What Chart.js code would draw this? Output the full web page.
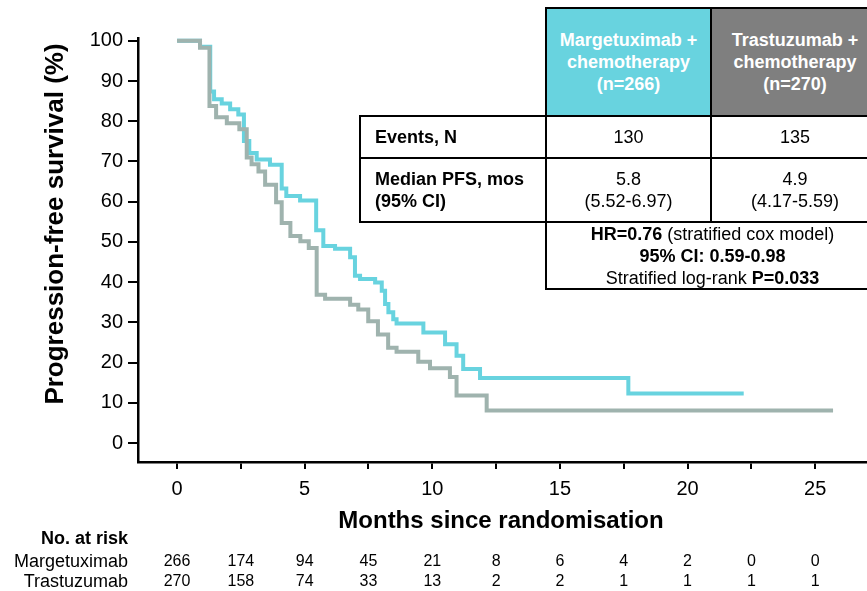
<!DOCTYPE html>
<html>
<head>
<meta charset="utf-8">
<script src="https://cdn.jsdelivr.net/npm/chart.js@4.4.1/dist/chart.umd.min.js"></script>
<style>
  html, body { margin: 0; padding: 0; background: #fff; }
  #wrap { position: relative; width: 867px; height: 591px; overflow: hidden; font-family: 'Liberation Sans', Arial, sans-serif; }
  #km { position: absolute; left: 0; top: 0; }
  .cell { position: absolute; box-sizing: border-box; border: 2px solid #000; display: flex; flex-direction: column; justify-content: center; align-items: center; text-align: center; font-size: 18px; line-height: 22px; color: #000; }
  .cell.lbl { align-items: flex-start; text-align: left; padding-left: 14px; font-weight: bold; }
  .cell.hdr { color: #fff; font-weight: bold; }
  b { font-weight: bold; }
</style>
</head>
<body>
<div id="wrap">
  <canvas id="km" width="867" height="591"></canvas>
  <div id="tbl"></div>
</div>
<script>
// Kaplan-Meier steps: time (months) -> survival (%)
const marTimes = [0, 0.9, 1.3, 1.45, 1.75, 2.08, 2.4, 2.62, 2.83, 3.12, 3.64, 4.1, 4.28, 4.82, 5.45, 5.73, 6.19, 6.78, 6.97, 7.17, 7.76, 8.02, 8.15, 8.28, 8.47, 8.6, 9.65, 10.5, 10.95, 11.21, 11.87, 17.68, 22.2];
const marSurv  = [100, 98.5, 87.4, 85.5, 84.4, 83, 81.7, 75.1, 72.1, 70.5, 69.2, 63.3, 61.4, 60.3, 52.9, 49, 48.3, 46.2, 41.6, 40.8, 39.9, 37.9, 34.6, 32.5, 30.8, 29.7, 27.5, 24.6, 21.7, 18.4, 16.2, 12.3, 12.3];
const traTimes = [0, 0.9, 1.27, 1.53, 1.95, 2.44, 2.73, 2.92, 3.19, 3.45, 3.88, 4.1, 4.44, 4.83, 5.16, 5.47, 5.8, 6.78, 7.1, 7.49, 7.87, 8.27, 8.6, 9.45, 9.91, 10.69, 10.95, 12.13, 25.7];
const traSurv  = [100, 98.3, 83.8, 81, 79.5, 78, 71, 69.3, 67.5, 64.2, 59.9, 54.7, 51.5, 50.2, 48.5, 36.9, 35.9, 34.4, 33.2, 30.3, 27, 23.7, 22.7, 20.2, 18.6, 16.4, 11.8, 8.1, 8.1];

const xTicks = [0, 2.5, 5, 7.5, 10, 12.5, 15, 17.5, 20, 22.5, 25];
const yTicks = [0, 10, 20, 30, 40, 50, 60, 70, 80, 90, 100];

const atRiskTimes = [0, 2.5, 5, 7.5, 10, 12.5, 15, 17.5, 20, 22.5, 25];
const marAtRisk = [266, 174, 94, 45, 21, 8, 6, 4, 2, 0, 0];
const traAtRisk = [270, 158, 74, 33, 13, 2, 2, 1, 1, 1, 1];
const riskLabels = ['Margetuximab', 'Trastuzumab'];

const armHeaders = [['Margetuximab +', 'chemotherapy', '(n=266)'], ['Trastuzumab +', 'chemotherapy', '(n=270)']];
const events = ['130', '135'];
const medians = [['5.8', '(5.52-6.97)'], ['4.9', '(4.17-5.59)']];

const cyan = '#68d3df';
const grayLine = '#9fb3ae';
const FONT = "'Liberation Sans', Arial, sans-serif";

// table in the upper right
const tbl = document.getElementById('tbl');
function cell(x1, y1, x2, y2, html, cls, bg){
    const d = document.createElement('div');
    d.className = 'cell' + (cls ? ' ' + cls : '');
    d.style.left = x1 + 'px';
    d.style.top = y1 + 'px';
    d.style.width = (x2 - x1) + 'px';
    d.style.height = (y2 - y1) + 'px';
    if(bg) d.style.background = bg;
    d.innerHTML = html;
    tbl.appendChild(d);
}
cell(545, 7, 712, 117, armHeaders[0].join('<br>'), 'hdr', cyan);
cell(710, 7, 880, 117, armHeaders[1].join('<br>'), 'hdr', '#7f7f7f');
cell(359, 115, 547, 159, 'Events, N', 'lbl');
cell(545, 115, 712, 159, events[0]);
cell(710, 115, 880, 159, events[1]);
cell(359, 157, 547, 223, 'Median PFS, mos<br>(95% CI)', 'lbl');
cell(545, 157, 712, 223, medians[0].join('<br>'));
cell(710, 157, 880, 223, medians[1].join('<br>'));
cell(545, 221, 880, 290, '<span><b>HR=0.76</b> (stratified cox model)</span><span><b>95% CI: 0.59-0.98</b></span><span>Stratified log-rank <b>P=0.033</b></span>');

// axis titles and the numbers-at-risk table
const extraText = {
    id: 'extraText',
    afterDraw(chart){
        const ctx = chart.ctx;
        const x = chart.scales.x;
        ctx.save();
        ctx.fillStyle = '#000';
        ctx.textBaseline = 'middle';

        ctx.textAlign = 'center';
        ctx.font = 'bold 24px ' + FONT;
        ctx.fillText('Months since randomisation', 501, 521);
        ctx.save();
        ctx.translate(56, 224);
        ctx.rotate(-Math.PI / 2);
        ctx.font = 'bold 26px ' + FONT;
        ctx.fillText('Progression-free survival (%)', 0, 0);
        ctx.restore();

        ctx.textAlign = 'right';
        ctx.font = 'bold 18px ' + FONT;
        ctx.fillText('No. at risk', 128, 539);
        ctx.font = '18px ' + FONT;
        ctx.fillText(riskLabels[0], 128, 562);
        ctx.fillText(riskLabels[1], 128, 582);

        ctx.textAlign = 'center';
        ctx.font = '16px ' + FONT;
        for(let i = 0; i < atRiskTimes.length; i++){
            const px = x.getPixelForValue(atRiskTimes[i]);
            ctx.fillText(String(marAtRisk[i]), px, 562);
            ctx.fillText(String(traAtRisk[i]), px, 582);
        }
        ctx.restore();
    }
};

const kmChart = new Chart(document.getElementById('km'), {
    type: 'line',
    data: {
        datasets: [{
            label: 'Trastuzumab + chemotherapy',
            data: traTimes.map((t, i) => ({x: t, y: traSurv[i]})),
            borderColor: grayLine,
            borderWidth: 4,
            stepped: 'before',
            pointRadius: 0,
            fill: false,
            order: 0
        }, {
            label: 'Margetuximab + chemotherapy',
            data: marTimes.map((t, i) => ({x: t, y: marSurv[i]})),
            borderColor: cyan,
            borderWidth: 4,
            stepped: 'before',
            pointRadius: 0,
            fill: false,
            order: 1
        }]
    },
    options: {
        responsive: false,
        animation: false,
        layout: {padding: {top: 38, left: 0, right: 0, bottom: 0}},
        plugins: {legend: {display: false}, tooltip: {enabled: false}},
        scales: {
            x: {
                type: 'linear',
                min: -1.53,
                max: 27.03,
                afterFit: (s) => { s.height = 129; },
                afterBuildTicks: (s) => { s.ticks = xTicks.map(v => ({value: v})); },
                ticks: {
                    callback: (v) => (v % 5 === 0 ? String(v) : ''),
                    font: {family: FONT, size: 20},
                    color: '#000',
                    padding: 8,
                    maxRotation: 0,
                    autoSkip: false
                },
                grid: {drawOnChartArea: false, tickLength: 7, color: '#000', lineWidth: 2},
                border: {color: '#000', width: 2.5}
            },
            y: {
                type: 'linear',
                min: -4.7,
                max: 100.7,
                afterFit: (s) => { s.width = 138; },
                afterBuildTicks: (s) => { s.ticks = yTicks.map(v => ({value: v})); },
                ticks: {
                    font: {family: FONT, size: 20},
                    color: '#000',
                    padding: 5
                },
                grid: {drawOnChartArea: false, tickLength: 10, color: '#000', lineWidth: 2},
                border: {color: '#000', width: 2.5}
            }
        }
    },
    plugins: [extraText]
});
</script>
</body>
</html>
